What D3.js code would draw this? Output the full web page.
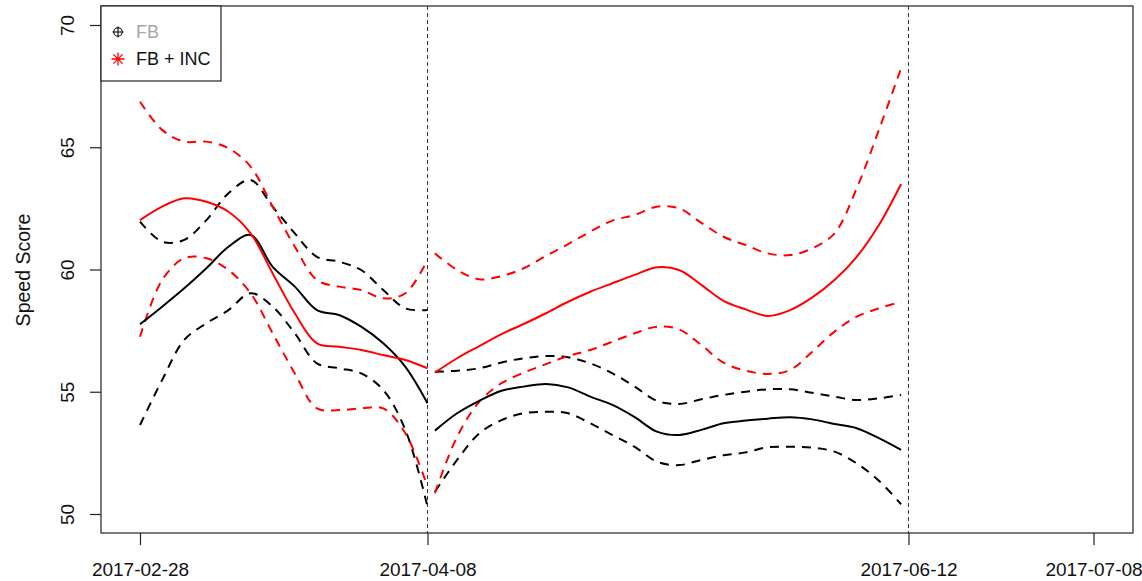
<!DOCTYPE html>
<meta charset="utf-8">
<script src="https://d3js.org/d3.v7.min.js"></script>
<body style="margin:0;background:#fff">
<div id="chart"></div>
</body>
<script>

// dates of the two smoothed segments
var seg1Dates = ["2017-02-28","2017-03-03","2017-03-06","2017-03-09","2017-03-12","2017-03-15","2017-03-18",
                 "2017-03-21","2017-03-24","2017-03-27","2017-03-30","2017-04-02","2017-04-05","2017-04-08"]
var seg2Dates = ["2017-04-09","2017-04-12","2017-04-15","2017-04-18","2017-04-21","2017-04-24","2017-04-27",
                 "2017-04-30","2017-05-03","2017-05-06","2017-05-09","2017-05-12","2017-05-15","2017-05-18",
                 "2017-05-21","2017-05-24","2017-05-27","2017-05-30","2017-06-02","2017-06-05","2017-06-08","2017-06-11"]

// FB (black) - fit and bounds
var fb1      = [57.76,58.48,59.23,60.05,60.93,61.41,60.11,59.30,58.34,58.14,57.66,56.98,56.02,54.53]
var fb1Upper = [61.96,61.14,61.21,62.02,63.12,63.66,62.57,61.48,60.52,60.32,59.98,59.16,58.41,58.34]
var fb1Lower = [53.64,55.48,57.12,57.80,58.34,59.03,58.48,57.39,56.16,55.96,55.75,55.07,53.44,50.30]
var fb2      = [53.41,54.12,54.63,55.04,55.21,55.32,55.18,54.80,54.46,53.96,53.37,53.23,53.44,53.71,
                53.82,53.90,53.96,53.87,53.68,53.51,53.10,52.62]
var fb2Upper = [55.82,55.86,55.96,56.20,56.37,56.46,56.41,56.16,55.75,55.21,54.63,54.50,54.69,54.87,
                55.00,55.10,55.10,54.96,54.80,54.66,54.73,54.87]
var fb2Lower = [50.91,52.21,53.30,53.84,54.12,54.18,54.12,53.71,53.23,52.75,52.14,52.00,52.21,52.40,
                52.52,52.73,52.75,52.71,52.55,52.07,51.36,50.40]

// FB + INC (red) - fit and bounds
var inc1      = [62.02,62.57,62.91,62.77,62.36,61.48,59.84,58.21,56.98,56.84,56.71,56.50,56.30,55.96]
var inc1Upper = [66.86,65.71,65.23,65.23,64.96,64.21,62.57,60.93,59.57,59.30,59.16,58.82,59.03,60.39]
var inc1Lower = [57.25,59.57,60.46,60.46,59.98,59.03,57.39,55.75,54.32,54.25,54.32,54.32,53.30,51.12]
var inc2      = [55.78,56.37,56.87,57.36,57.77,58.21,58.68,59.09,59.44,59.78,60.09,59.98,59.37,58.72,
                 58.37,58.10,58.34,58.86,59.57,60.52,61.82,63.50]
var inc2Upper = [60.66,59.98,59.60,59.73,60.05,60.55,61.04,61.55,62.00,62.23,62.57,62.50,61.91,61.34,
                 61.00,60.66,60.59,60.87,61.48,63.32,65.71,68.23]
var inc2Lower = [50.85,53.16,54.59,55.35,55.78,56.13,56.46,56.71,57.05,57.39,57.66,57.55,56.91,56.19,
                 55.86,55.73,55.89,56.64,57.46,58.07,58.41,58.68]

var xTicks = ["2017-02-28","2017-04-08","2017-06-12","2017-07-08"]
var breakDates = ["2017-04-08","2017-06-12"]
var yTicks = [50, 55, 60, 65, 70]
var legendLabels = ["FB", "FB + INC"]

var width = 1142, height = 581
var box = {left: 101, right: 1133, top: 6, bottom: 533}
var font = "Liberation Sans, Arial, sans-serif"

var parse = d3.utcParse("%Y-%m-%d")
var fmt = d3.utcFormat("%Y-%m-%d")

var svg = d3.select("#chart")
  .append("svg")
    .attr("width", width)
    .attr("height", height)

// the axis positions of the reference are not quite evenly spaced in time
var x = d3.scaleUtc()
  .domain(xTicks.map(parse))
  .range([140, 427.5, 908.5, 1093.5])

var y = d3.scaleLinear()
  .domain([50, 70])
  .range([514, 25])

// vertical dashed lines
svg.selectAll("line.brk")
  .data(breakDates)
  .enter()
  .append("line")
    .attr("x1", function(d){ return x(parse(d)) })
    .attr("x2", function(d){ return x(parse(d)) })
    .attr("y1", box.top)
    .attr("y2", box.bottom)
    .attr("stroke", "#333")
    .attr("stroke-width", 1)
    .attr("stroke-dasharray", "4,3")

// series
var series = [
  {dates: seg1Dates, vals: fb1Upper, color: "#000", dash: "9,7"},
  {dates: seg1Dates, vals: fb1Lower, color: "#000", dash: "9,7"},
  {dates: seg1Dates, vals: inc1Upper, color: "#ff0000", dash: "9,7"},
  {dates: seg1Dates, vals: inc1Lower, color: "#ff0000", dash: "9,7"},
  {dates: seg1Dates, vals: fb1, color: "#000", dash: null},
  {dates: seg1Dates, vals: inc1, color: "#ff0000", dash: null},
  {dates: seg2Dates, vals: fb2Upper, color: "#000", dash: "9,7"},
  {dates: seg2Dates, vals: fb2Lower, color: "#000", dash: "9,7"},
  {dates: seg2Dates, vals: inc2Upper, color: "#ff0000", dash: "9,7"},
  {dates: seg2Dates, vals: inc2Lower, color: "#ff0000", dash: "9,7"},
  {dates: seg2Dates, vals: fb2, color: "#000", dash: null},
  {dates: seg2Dates, vals: inc2, color: "#ff0000", dash: null}
]

var line = d3.line()
  .curve(d3.curveCatmullRom.alpha(0.5))
  .x(function(d){ return x(d[0]) })
  .y(function(d){ return y(d[1]) })

svg.selectAll("path.series")
  .data(series)
  .enter()
  .append("path")
    .attr("class", "series")
    .attr("fill", "none")
    .attr("stroke", function(d){ return d.color })
    .attr("stroke-width", 2)
    .attr("stroke-dasharray", function(d){ return d.dash })
    .attr("d", function(d){
      return line(d.vals.map(function(v, i){ return [parse(d.dates[i]), v] }))
    })

// plot box
svg.append("rect")
  .attr("x", box.left)
  .attr("y", box.top)
  .attr("width", box.right - box.left)
  .attr("height", box.bottom - box.top)
  .attr("fill", "none")
  .attr("stroke", "#222")
  .attr("stroke-width", 1.2)

// x axis
var xAxis = svg.append("g")
  .attr("transform", "translate(0," + box.bottom + ")")
  .call(d3.axisBottom(x)
    .tickValues(xTicks.map(parse))
    .tickFormat(fmt)
    .tickSize(12)
    .tickPadding(18))
xAxis.select(".domain").remove()
xAxis.selectAll("line").attr("stroke", "#222").attr("stroke-width", 1.2)
xAxis.selectAll("text")
  .attr("fill", "#111")
  .style("font-family", font)
  .style("font-size", "19px")

// y axis
var yAxis = svg.append("g")
  .attr("transform", "translate(" + box.left + ",0)")
  .call(d3.axisLeft(y).tickValues(yTicks).tickSize(11).tickPadding(0))
yAxis.select(".domain").remove()
yAxis.selectAll("line").attr("stroke", "#222").attr("stroke-width", 1.2)
yAxis.selectAll("text")
  .attr("fill", "#111")
  .attr("x", 0)
  .attr("y", 0)
  .attr("dy", null)
  .attr("text-anchor", "middle")
  .attr("transform", "translate(-27,0) rotate(-90)")
  .style("font-family", font)
  .style("font-size", "19px")

svg.append("text")
  .attr("transform", "translate(30,270) rotate(-90)")
  .attr("text-anchor", "middle")
  .attr("fill", "#111")
  .style("font-family", font)
  .style("font-size", "19.5px")
  .text("Speed Score")

// legend
var legend = svg.append("g")
legend.append("rect")
  .attr("x", box.left)
  .attr("y", box.top)
  .attr("width", 120)
  .attr("height", 75)
  .attr("fill", "#fff")
  .attr("stroke", "#222")
  .attr("stroke-width", 1.2)

// symbol 1: circle with plus
var s1 = legend.append("g").attr("transform", "translate(118,32)")
s1.append("circle").attr("r", 4.2).attr("fill", "none").attr("stroke", "#000").attr("stroke-width", 1.1)
s1.append("path").attr("d", "M-5.5,0H5.5M0,-5.5V5.5").attr("stroke", "#000").attr("stroke-width", 1.1)

// symbol 2: asterisk
var s2 = legend.append("g").attr("transform", "translate(118,59)")
s2.append("path")
  .attr("d", "M-6.5,0H6.5M0,-6.5V6.5M-4.6,-4.6L4.6,4.6M-4.6,4.6L4.6,-4.6")
  .attr("stroke", "#ff0000")
  .attr("stroke-width", 1.3)

legend.selectAll("text.lg")
  .data(legendLabels)
  .enter()
  .append("text")
    .attr("class", "lg")
    .attr("x", 136)
    .attr("y", function(d, i){ return 32 + i * 27 })
    .attr("dy", "0.35em")
    .attr("fill", function(d, i){ return i == 0 ? "#a6a6a6" : "#111" })
    .style("font-family", font)
    .style("font-size", "18px")
    .text(function(d){ return d })

</script>
